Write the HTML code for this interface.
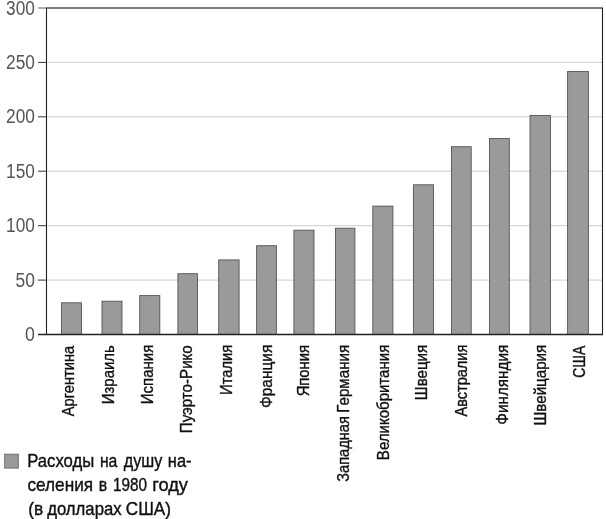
<!DOCTYPE html>
<html lang="ru">
<head>
<meta charset="utf-8">
<title>Расходы на душу населения в 1980 году</title>
<style>
html,body{margin:0;padding:0;background:#fff;}
body{width:606px;height:519px;overflow:hidden;position:relative;font-family:"Liberation Sans",sans-serif;}
svg{display:block;position:absolute;left:0;top:0;}
svg text{font-family:"Liberation Sans",sans-serif;}
.yl{font-size:19.5px;fill:#555;}
.xl{font-size:16.2px;fill:#111;stroke:#111;stroke-width:0.35px;}
.lg{font-size:19px;fill:#111;stroke:#111;stroke-width:0.4px;}
</style>
</head>
<body>
<svg width="606" height="519" viewBox="0 0 606 519">
<rect x="0" y="0" width="606" height="519" fill="#ffffff"/>

<g id="grid">
<line x1="47" y1="62.4" x2="602" y2="62.4" stroke="#cdcdcd" stroke-width="1"/>
<line x1="47" y1="116.8" x2="602" y2="116.8" stroke="#cdcdcd" stroke-width="1"/>
<line x1="47" y1="171.2" x2="602" y2="171.2" stroke="#cdcdcd" stroke-width="1"/>
<line x1="47" y1="225.7" x2="602" y2="225.7" stroke="#cdcdcd" stroke-width="1"/>
<line x1="47" y1="280.1" x2="602" y2="280.1" stroke="#cdcdcd" stroke-width="1"/>
</g>
<g id="bars">
<rect x="61.5" y="302.8" width="20.0" height="31.7" fill="#9a9a9a" stroke="#555" stroke-width="0.9"/>
<rect x="102.0" y="301.2" width="20.0" height="33.3" fill="#9a9a9a" stroke="#555" stroke-width="0.9"/>
<rect x="139.7" y="295.6" width="20.1" height="38.9" fill="#9a9a9a" stroke="#555" stroke-width="0.9"/>
<rect x="177.9" y="273.7" width="19.6" height="60.8" fill="#9a9a9a" stroke="#555" stroke-width="0.9"/>
<rect x="218.7" y="259.9" width="20.4" height="74.6" fill="#9a9a9a" stroke="#555" stroke-width="0.9"/>
<rect x="256.6" y="245.7" width="19.8" height="88.8" fill="#9a9a9a" stroke="#555" stroke-width="0.9"/>
<rect x="293.9" y="230.2" width="20.1" height="104.3" fill="#9a9a9a" stroke="#555" stroke-width="0.9"/>
<rect x="335.5" y="228.2" width="19.4" height="106.3" fill="#9a9a9a" stroke="#555" stroke-width="0.9"/>
<rect x="372.8" y="206.1" width="20.1" height="128.4" fill="#9a9a9a" stroke="#555" stroke-width="0.9"/>
<rect x="413.4" y="184.8" width="20.1" height="149.7" fill="#9a9a9a" stroke="#555" stroke-width="0.9"/>
<rect x="451.5" y="146.7" width="19.7" height="187.8" fill="#9a9a9a" stroke="#555" stroke-width="0.9"/>
<rect x="489.5" y="138.5" width="19.8" height="196.0" fill="#9a9a9a" stroke="#555" stroke-width="0.9"/>
<rect x="530.0" y="115.5" width="20.5" height="219.0" fill="#9a9a9a" stroke="#555" stroke-width="0.9"/>
<rect x="567.6" y="71.5" width="20.8" height="263.0" fill="#9a9a9a" stroke="#555" stroke-width="0.9"/>
</g>
<g id="frame">
<line x1="38" y1="8.0" x2="46" y2="8.0" stroke="#888" stroke-width="1.4"/>
<line x1="46" y1="8.0" x2="603" y2="8.0" stroke="#555" stroke-width="1.6"/>
<line x1="46.5" y1="8.0" x2="46.5" y2="334.5" stroke="#222" stroke-width="1.1"/>
<line x1="602.5" y1="8.0" x2="602.5" y2="334.5" stroke="#222" stroke-width="1.1"/>
<line x1="38" y1="334.5" x2="603" y2="334.5" stroke="#222" stroke-width="1.3"/>
<line x1="38" y1="62.4" x2="46.5" y2="62.4" stroke="#333" stroke-width="1"/>
<line x1="38" y1="116.8" x2="46.5" y2="116.8" stroke="#333" stroke-width="1"/>
<line x1="38" y1="171.2" x2="46.5" y2="171.2" stroke="#333" stroke-width="1"/>
<line x1="38" y1="225.7" x2="46.5" y2="225.7" stroke="#333" stroke-width="1"/>
<line x1="38" y1="280.1" x2="46.5" y2="280.1" stroke="#333" stroke-width="1"/>
</g>
<g id="ylabels">
<text class="yl" x="34.9" y="14.6" text-anchor="end" textLength="28.8" lengthAdjust="spacingAndGlyphs">300</text>
<text class="yl" x="34.9" y="69.0" text-anchor="end" textLength="28.8" lengthAdjust="spacingAndGlyphs">250</text>
<text class="yl" x="34.9" y="123.4" text-anchor="end" textLength="28.8" lengthAdjust="spacingAndGlyphs">200</text>
<text class="yl" x="34.9" y="177.8" text-anchor="end" textLength="28.8" lengthAdjust="spacingAndGlyphs">150</text>
<text class="yl" x="34.9" y="232.3" text-anchor="end" textLength="28.8" lengthAdjust="spacingAndGlyphs">100</text>
<text class="yl" x="34.9" y="286.7" text-anchor="end" textLength="19.4" lengthAdjust="spacingAndGlyphs">50</text>
<text class="yl" x="34.9" y="341.1" text-anchor="end" textLength="9.9" lengthAdjust="spacingAndGlyphs">0</text>
</g>
<g id="xlabels">
<text class="xl" transform="translate(73.5,0) rotate(-90)"><tspan x="-416.27" textLength="70.57" lengthAdjust="spacingAndGlyphs">Аргентина</tspan></text>
<text class="xl" transform="translate(113.7,0) rotate(-90)"><tspan x="-404.23" textLength="59.03" lengthAdjust="spacingAndGlyphs">Израиль</tspan></text>
<text class="xl" transform="translate(153.3,0) rotate(-90)"><tspan x="-404.23" textLength="59.56" lengthAdjust="spacingAndGlyphs">Испания</tspan></text>
<text class="xl" transform="translate(192.3,0) rotate(-90)"><tspan x="-433.16" textLength="87.92" lengthAdjust="spacingAndGlyphs">Пуэрто-Рико</tspan></text>
<text class="xl" transform="translate(232.3,0) rotate(-90)"><tspan x="-394.95" textLength="50.17" lengthAdjust="spacingAndGlyphs">Италия</tspan></text>
<text class="xl" transform="translate(271.8,0) rotate(-90)"><tspan x="-407.94" textLength="63.19" lengthAdjust="spacingAndGlyphs">Франция</tspan></text>
<text class="xl" transform="translate(309.4,0) rotate(-90)"><tspan x="-396.33" textLength="51.35" lengthAdjust="spacingAndGlyphs">Япония</tspan></text>
<text class="xl" transform="translate(348.8,0) rotate(-90)"><tspan x="-481.74" textLength="65.51" lengthAdjust="spacingAndGlyphs">Западная</tspan> <tspan x="-412.67" textLength="67.88" lengthAdjust="spacingAndGlyphs">Германия</tspan></text>
<text class="xl" transform="translate(389.1,0) rotate(-90)"><tspan x="-460.15" textLength="115.48" lengthAdjust="spacingAndGlyphs">Великобритания</tspan></text>
<text class="xl" transform="translate(427.3,0) rotate(-90)"><tspan x="-400.17" textLength="55.39" lengthAdjust="spacingAndGlyphs">Швеция</tspan></text>
<text class="xl" transform="translate(467.0,0) rotate(-90)"><tspan x="-416.57" textLength="71.93" lengthAdjust="spacingAndGlyphs">Австралия</tspan></text>
<text class="xl" transform="translate(507.9,0) rotate(-90)"><tspan x="-424.64" textLength="79.88" lengthAdjust="spacingAndGlyphs">Финляндия</tspan></text>
<text class="xl" transform="translate(546.0,0) rotate(-90)"><tspan x="-425.50" textLength="80.72" lengthAdjust="spacingAndGlyphs">Швейцария</tspan></text>
<text class="xl" transform="translate(584.7,0) rotate(-90)"><tspan x="-377.66" textLength="31.99" lengthAdjust="spacingAndGlyphs">США</tspan></text>
</g>
<g id="legend">
<rect x="4.7" y="454.2" width="13.6" height="13.9" fill="#9a9a9a" stroke="#707070" stroke-width="1"/>
<text class="lg" y="467.0"><tspan x="27.17" textLength="67.08" lengthAdjust="spacingAndGlyphs">Расходы</tspan> <tspan x="99.89" textLength="17.46" lengthAdjust="spacingAndGlyphs">на</tspan> <tspan x="123.86" textLength="38.52" lengthAdjust="spacingAndGlyphs">душу</tspan> <tspan x="167.80" textLength="23.72" lengthAdjust="spacingAndGlyphs">на-</tspan></text>
<text class="lg" y="490.7"><tspan x="27.41" textLength="65.69" lengthAdjust="spacingAndGlyphs">селения</tspan> <tspan x="98.65" textLength="8.40" lengthAdjust="spacingAndGlyphs">в</tspan> <tspan x="113.04" textLength="34.00" lengthAdjust="spacingAndGlyphs">1980</tspan> <tspan x="152.17" textLength="35.78" lengthAdjust="spacingAndGlyphs">году</tspan></text>
<text class="lg" y="514.5"><tspan x="28.27" textLength="14.92" lengthAdjust="spacingAndGlyphs">(в</tspan> <tspan x="47.19" textLength="74.39" lengthAdjust="spacingAndGlyphs">долларах</tspan> <tspan x="125.77" textLength="45.17" lengthAdjust="spacingAndGlyphs">США)</tspan></text>
</g>
</svg>
</body>
</html>
